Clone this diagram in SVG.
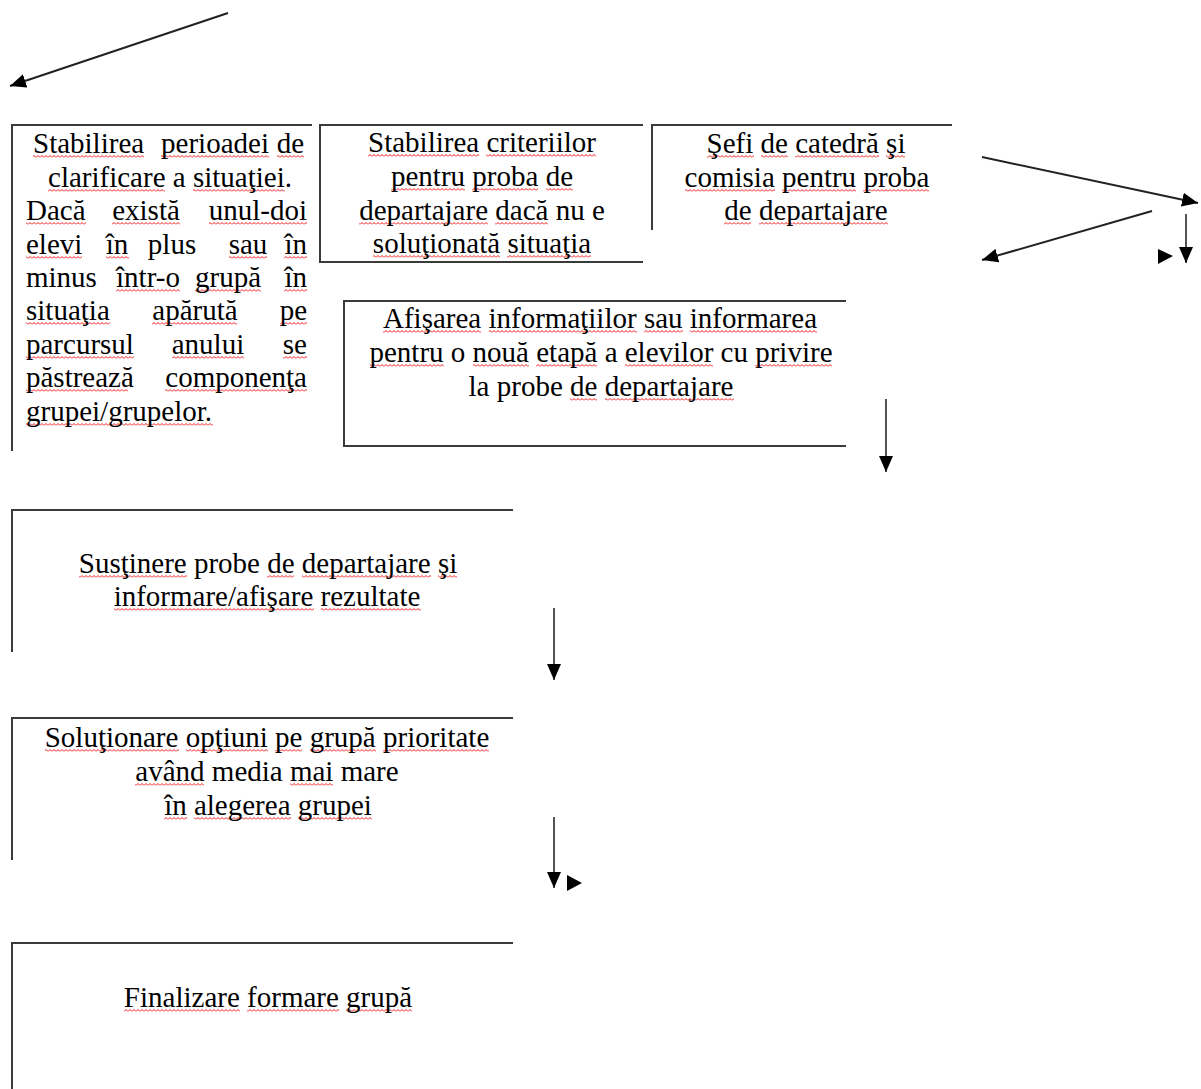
<svg xmlns="http://www.w3.org/2000/svg" width="1201" height="1089" viewBox="0 0 1201 1089">
<style>
.bg{fill:#fff}
.box{fill:none;stroke:#3a3a3a;stroke-width:2}
.con{fill:none;stroke:#222;stroke-width:2}
.vcon{fill:none;stroke:#555;stroke-width:2}
.head{fill:#000}
.t{font-family:"Liberation Serif","Times New Roman",serif;font-size:29px;fill:#000}
.c{text-anchor:middle}
.e{text-anchor:end}
.w{fill:url(#wv)}
</style>
<defs>
<marker id="ah" markerUnits="userSpaceOnUse" markerWidth="16" markerHeight="14" refX="16" refY="7" orient="auto" viewBox="0 0 16 14">
<path d="M0,0 L16,7 L0,14 z" class="head"/>
</marker>
<pattern id="wv" patternUnits="userSpaceOnUse" width="4" height="3">
<path d="M0,2.5 L2,0.5 L4,2.5" fill="none" stroke="#f01818" stroke-width="1"/>
</pattern>
</defs>
<rect class="bg" width="1201" height="1089"/>

<g id="connectors">
<line class="con" x1="228" y1="13" x2="10" y2="86" marker-end="url(#ah)"/>
<line class="con" x1="982" y1="157" x2="1198" y2="203" marker-end="url(#ah)"/>
<line class="con" x1="1152" y1="211" x2="982" y2="260" marker-end="url(#ah)"/>
<line class="vcon" x1="1186" y1="214" x2="1186" y2="263" marker-end="url(#ah)"/>
<polygon class="head" points="1158,249 1173,256 1158,264"/>
<line class="vcon" x1="886" y1="399" x2="886" y2="472" marker-end="url(#ah)"/>
<line class="vcon" x1="554" y1="608" x2="554" y2="680" marker-end="url(#ah)"/>
<line class="vcon" x1="554" y1="817" x2="554" y2="888" marker-end="url(#ah)"/>
<polygon class="head" points="567,875 582,883 567,891"/>
</g>

<g id="node1">
<path class="box" d="M312,125 H12 V451"/>
<g transform="translate(0,155)"><rect class="w" x="33" width="111" height="3"/><rect class="w" x="161" width="108" height="3"/><rect class="w" x="277" width="27" height="3"/></g>
<g transform="translate(0,189)"><rect class="w" x="48" width="117" height="3"/><rect class="w" x="193" width="92" height="3"/></g>
<g transform="translate(0,222)"><rect class="w" x="26" width="60" height="3"/><rect class="w" x="112" width="68" height="3"/><rect class="w" x="209" width="98" height="3"/></g>
<g transform="translate(0,256)"><rect class="w" x="26" width="56" height="3"/><rect class="w" x="106" width="23" height="3"/><rect class="w" x="229" width="38" height="3"/><rect class="w" x="284" width="23" height="3"/></g>
<g transform="translate(0,289)"><rect class="w" x="116" width="64" height="3"/><rect class="w" x="195" width="66" height="3"/><rect class="w" x="284" width="23" height="3"/></g>
<g transform="translate(0,322)"><rect class="w" x="26" width="84" height="3"/><rect class="w" x="152" width="85" height="3"/><rect class="w" x="280" width="27" height="3"/></g>
<g transform="translate(0,356)"><rect class="w" x="26" width="108" height="3"/><rect class="w" x="172" width="72" height="3"/><rect class="w" x="283" width="24" height="3"/></g>
<g transform="translate(0,389)"><rect class="w" x="26" width="102" height="3"/><rect class="w" x="165" width="142" height="3"/></g>
<g transform="translate(0,423)"><rect class="w" x="26" width="187" height="3"/></g>
<text class="t" x="33" y="153">Stabilirea</text>
<text class="t c" x="215" y="153">perioadei</text>
<text class="t e" x="304" y="153">de</text>
<text class="t c" x="170" y="187"><tspan>clarificare</tspan> a <tspan>situaţiei.</tspan></text>
<text class="t" x="26" y="220">Dacă</text>
<text class="t c" x="146" y="220">există</text>
<text class="t e" x="307" y="220">unul-doi</text>
<text class="t" x="26" y="254">elevi</text>
<text class="t c" x="117" y="254">în</text>
<text class="t c" x="172" y="254">plus</text>
<text class="t c" x="248" y="254">sau</text>
<text class="t e" x="307" y="254">în</text>
<text class="t" x="26" y="287">minus</text>
<text class="t c" x="148" y="287">într-o</text>
<text class="t c" x="228" y="287">grupă</text>
<text class="t e" x="307" y="287">în</text>
<text class="t" x="26" y="320">situaţia</text>
<text class="t c" x="195" y="320">apărută</text>
<text class="t e" x="307" y="320">pe</text>
<text class="t" x="26" y="354">parcursul</text>
<text class="t c" x="208" y="354">anului</text>
<text class="t e" x="307" y="354">se</text>
<text class="t" x="26" y="387">păstrează</text>
<text class="t e" x="307" y="387">componenţa</text>
<text class="t" x="26" y="421">grupei/grupelor.</text>
</g>

<g id="node2">
<path class="box" d="M643,125 H320 V262 H643"/>
<g transform="translate(0,154)"><rect class="w" x="368" width="111" height="3"/><rect class="w" x="486" width="110" height="3"/></g>
<g transform="translate(0,188)"><rect class="w" x="391" width="74" height="3"/><rect class="w" x="472" width="66" height="3"/><rect class="w" x="546" width="27" height="3"/></g>
<g transform="translate(0,222)"><rect class="w" x="359" width="129" height="3"/><rect class="w" x="495" width="53" height="3"/></g>
<g transform="translate(0,255)"><rect class="w" x="373" width="127" height="3"/><rect class="w" x="507" width="84" height="3"/></g>
<text class="t c" x="482" y="152"><tspan>Stabilirea</tspan> <tspan>criteriilor</tspan></text>
<text class="t c" x="482" y="186"><tspan>pentru</tspan> <tspan>proba</tspan> <tspan>de</tspan></text>
<text class="t c" x="482" y="220"><tspan>departajare</tspan> <tspan>dacă</tspan> nu e</text>
<text class="t c" x="482" y="253"><tspan>soluţionată</tspan> <tspan>situaţia</tspan></text>
</g>

<g id="node3">
<path class="box" d="M952,125 H652 V230"/>
<g transform="translate(0,155)"><rect class="w" x="707" width="47" height="3"/><rect class="w" x="761" width="27" height="3"/><rect class="w" x="795" width="84" height="3"/><rect class="w" x="886" width="19" height="3"/></g>
<g transform="translate(0,189)"><rect class="w" x="685" width="90" height="3"/><rect class="w" x="782" width="74" height="3"/><rect class="w" x="863" width="66" height="3"/></g>
<g transform="translate(0,222)"><rect class="w" x="724" width="27" height="3"/><rect class="w" x="759" width="129" height="3"/></g>
<text class="t c" x="806" y="153"><tspan>Şefi</tspan> <tspan>de</tspan> <tspan>catedră</tspan> <tspan>şi</tspan></text>
<text class="t c" x="807" y="187"><tspan>comisia</tspan> <tspan>pentru</tspan> <tspan>proba</tspan></text>
<text class="t c" x="806" y="220"><tspan>de</tspan> <tspan>departajare</tspan></text>
</g>

<g id="node4">
<path class="box" d="M846,301 H344 V446 H846"/>
<g transform="translate(0,330)"><rect class="w" x="383" width="98" height="3"/><rect class="w" x="489" width="148" height="3"/><rect class="w" x="644" width="39" height="3"/><rect class="w" x="690" width="127" height="3"/></g>
<g transform="translate(0,364)"><rect class="w" x="370" width="74" height="3"/><rect class="w" x="473" width="56" height="3"/><rect class="w" x="536" width="61" height="3"/><rect class="w" x="625" width="88" height="3"/><rect class="w" x="755" width="77" height="3"/></g>
<g transform="translate(0,398)"><rect class="w" x="570" width="27" height="3"/><rect class="w" x="605" width="129" height="3"/></g>
<text class="t c" x="600" y="328"><tspan>Afişarea</tspan> <tspan>informaţiilor</tspan> <tspan>sau</tspan> <tspan>informarea</tspan></text>
<text class="t c" x="601" y="362"><tspan>pentru</tspan> o <tspan>nouă</tspan> <tspan>etapă</tspan> a <tspan>elevilor</tspan> cu <tspan>privire</tspan></text>
<text class="t c" x="601" y="396">la probe <tspan>de</tspan> <tspan>departajare</tspan></text>
</g>

<g id="node5">
<path class="box" d="M513,510 H12 V652"/>
<g transform="translate(0,575)"><rect class="w" x="79" width="108" height="3"/><rect class="w" x="267" width="27" height="3"/><rect class="w" x="302" width="129" height="3"/><rect class="w" x="438" width="19" height="3"/></g>
<g transform="translate(0,608)"><rect class="w" x="114" width="200" height="3"/><rect class="w" x="321" width="100" height="3"/></g>
<text class="t c" x="268" y="573"><tspan>Susţinere</tspan> probe <tspan>de</tspan> <tspan>departajare</tspan> <tspan>şi</tspan></text>
<text class="t c" x="267" y="606"><tspan>informare/afişare</tspan> <tspan>rezultate</tspan></text>
</g>

<g id="node6">
<path class="box" d="M513,718 H12 V860"/>
<g transform="translate(0,749)"><rect class="w" x="45" width="134" height="3"/><rect class="w" x="186" width="82" height="3"/><rect class="w" x="275" width="27" height="3"/><rect class="w" x="310" width="66" height="3"/><rect class="w" x="383" width="106" height="3"/></g>
<g transform="translate(0,783)"><rect class="w" x="135" width="69" height="3"/><rect class="w" x="290" width="43" height="3"/></g>
<g transform="translate(0,817)"><rect class="w" x="164" width="23" height="3"/><rect class="w" x="194" width="97" height="3"/><rect class="w" x="298" width="74" height="3"/></g>
<text class="t c" x="267" y="747"><tspan>Soluţionare</tspan> <tspan>opţiuni</tspan> <tspan>pe</tspan> <tspan>grupă</tspan> <tspan>prioritate</tspan></text>
<text class="t c" x="267" y="781"><tspan>având</tspan> media <tspan>mai</tspan> mare</text>
<text class="t c" x="268" y="815"><tspan>în</tspan> <tspan>alegerea</tspan> <tspan>grupei</tspan></text>
</g>

<g id="node7">
<path class="box" d="M513,943 H12 V1089"/>
<g transform="translate(0,1009)"><rect class="w" x="124" width="116" height="3"/><rect class="w" x="247" width="92" height="3"/><rect class="w" x="346" width="66" height="3"/></g>
<text class="t c" x="268" y="1007"><tspan>Finalizare</tspan> <tspan>formare</tspan> <tspan>grupă</tspan></text>
</g>
</svg>
